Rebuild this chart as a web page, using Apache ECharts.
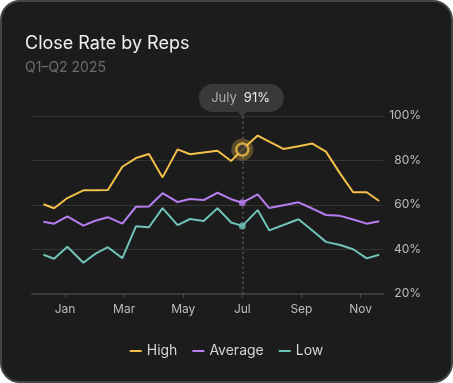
<!DOCTYPE html>
<html>
<head>
<meta charset="utf-8">
<script src="https://cdn.jsdelivr.net/npm/echarts@6/dist/echarts.min.js"></script>
<style>
  html, body { margin: 0; padding: 0; background: #ffffff; }
  #card { position: absolute; left: 0; top: 0; width: 453px; height: 383px; box-sizing: border-box;
          border: 2px solid #454545; border-radius: 20px; background: #1c1c1c; }
  #chart { position: absolute; left: 0; top: 0; width: 453px; height: 383px; }
</style>
</head>
<body>
<div id="card"></div>
<div id="chart"></div>
<script>
// ---- data ----
const monthNames = ['Jan','Feb','Mar','Apr','May','Jun','Jul','Aug','Sep','Oct','Nov','Dec'];
const tickMonths = [0, 2, 4, 6, 8, 10];
// x positions in months (0 = Jan)
const xPos = [-0.73, -0.37, 0.08, 0.62, 1.02, 1.45, 1.94, 2.40, 2.84, 3.30, 3.81, 4.23, 4.69, 5.16, 5.62, 6.00, 6.52, 6.91, 7.39, 7.90, 8.37, 8.83, 9.31, 9.75, 10.21, 10.63];
const high = [60.2, 58.4, 63.0, 66.5, 66.5, 66.6, 77.1, 81.0, 82.8, 72.3, 84.9, 82.7, 83.5, 84.3, 79.7, 84.8, 91.1, 88.4, 85.1, 86.3, 87.5, 83.9, 74.0, 65.6, 65.6, 61.7];
const average = [52.4, 51.5, 54.8, 50.6, 52.8, 54.4, 51.5, 59.1, 59.2, 65.2, 61.2, 62.6, 62.1, 65.4, 62.5, 60.9, 64.7, 58.5, 59.8, 61.1, 58.3, 55.4, 55.0, 53.4, 51.5, 52.6];
const low = [37.5, 35.7, 41.1, 33.9, 37.9, 40.9, 36.0, 50.3, 49.9, 58.5, 50.8, 53.6, 52.7, 58.4, 52.0, 50.5, 57.6, 48.5, 50.9, 53.5, 48.4, 43.3, 41.9, 40.0, 35.9, 37.5];
const yTicks = [20, 40, 60, 80, 100];
const focusMonth = 6;
const tooltipLabel = 'July';
const tooltipValue = '91%';

const colors = { high: '#f3c04a', average: '#b67ef0', low: '#6fc3b8' };
const FONT = 'Inter, "Noto Sans", sans-serif';

const pair = arr => arr.map((v, i) => [xPos[i], v]);
const fi = xPos.indexOf(focusMonth);

const chart = echarts.init(document.getElementById('chart'), null, { renderer: 'canvas' });

const option = {
  animation: false,
  backgroundColor: 'transparent',
  textStyle: { fontFamily: FONT },
  title: {
    text: 'Close Rate by Reps',
    subtext: 'Q1–Q2 2025',
    left: 20, top: 30, itemGap: 8,
    textStyle: { fontSize: 18, fontWeight: 400, color: '#f0f0f0', fontFamily: FONT },
    subtextStyle: { fontSize: 14, color: '#6c6c6c', fontFamily: FONT }
  },
  legend: {
    data: ['High', 'Average', 'Low'],
    bottom: 20, left: 'center',
    icon: 'rect', itemWidth: 12, itemHeight: 2, itemGap: 15,
    textStyle: { fontSize: 14, color: '#d4d4d4', fontFamily: FONT }
  },
  grid: { left: 32, right: 70, top: 115.8, bottom: 89.3 },
  xAxis: {
    type: 'value', min: -1.117, max: 10.76,
    splitLine: { show: false },
    axisLine: { show: true, lineStyle: { color: '#3a3a3a', width: 2 } },
    axisTick: { show: true, customValues: tickMonths, length: 4, lineStyle: { color: '#4e4e4e', width: 1 } },
    axisLabel: { customValues: tickMonths, formatter: v => monthNames[Math.round(v)], color: '#bdbdbd', fontSize: 12, margin: 10, fontFamily: FONT }
  },
  yAxis: {
    type: 'value', position: 'right', min: 20, max: 100, interval: 20,
    axisLine: { show: false }, axisTick: { show: false },
    splitLine: { show: true, lineStyle: { color: '#343434', width: 1 } },
    axisLabel: { formatter: '{value}%', color: '#bdbdbd', fontSize: 12, align: 'right', margin: 38, fontFamily: FONT }
  },
  series: [
    {
      name: 'High', type: 'line', data: pair(high), showSymbol: false, color: colors.high,
      lineStyle: { width: 2, color: colors.high }, z: 3,
      markLine: {
        silent: true, symbol: ['none', 'none'], label: { show: false },
        lineStyle: { type: [2, 3], color: '#5a5a5a', width: 1.5 },
        data: [{ xAxis: focusMonth }]
      }
    },
    { name: 'Average', type: 'line', data: pair(average), showSymbol: false, color: colors.average, lineStyle: { width: 2, color: colors.average }, z: 3 },
    { name: 'Low', type: 'line', data: pair(low), showSymbol: false, color: colors.low, lineStyle: { width: 2, color: colors.low }, z: 3 },
    { type: 'scatter', data: [[xPos[fi], high[fi]]], symbolSize: 22, itemStyle: { color: 'rgba(243,192,74,0.38)' }, z: 5, silent: true },
    { type: 'scatter', data: [[xPos[fi], high[fi]]], symbolSize: 12, itemStyle: { color: '#3a372f', borderColor: colors.high, borderWidth: 2.5 }, z: 6, silent: true },
    { type: 'scatter', data: [[xPos[fi], average[fi]]], symbolSize: 7, itemStyle: { color: colors.average }, z: 6, silent: true },
    { type: 'scatter', data: [[xPos[fi], low[fi]]], symbolSize: 7, itemStyle: { color: colors.low }, z: 6, silent: true }
  ]
};
chart.setOption(option);

// tooltip bubble positioned from the axis scale
const p = chart.convertToPixel({ xAxisIndex: 0, yAxisIndex: 0 }, [focusMonth, 100]);
const px = p[0];
const boxW = 85, boxH = 28, boxTop = 84;
chart.setOption({
  graphic: [
    {
      type: 'group', z: 100,
      children: [
        { type: 'rect', shape: { x: px - boxW / 2 - 1, y: boxTop, width: boxW, height: boxH, r: 14 }, style: { fill: '#393939' } },
        { type: 'polygon', shape: { points: [[px - 5, boxTop + boxH - 0.5], [px + 5, boxTop + boxH - 0.5], [px, boxTop + boxH + 5.5]] }, style: { fill: '#393939' } },
        { type: 'text', x: px - 5.5, y: boxTop + boxH / 2 + 0.5,
          style: { text: tooltipLabel, align: 'right', verticalAlign: 'middle', fill: '#ababab', font: '13px ' + FONT } },
        { type: 'text', x: px + 1.5, y: boxTop + boxH / 2 + 0.5,
          style: { text: tooltipValue, align: 'left', verticalAlign: 'middle', fill: '#ededed', font: '13px ' + FONT } }
      ]
    }
  ]
});
</script>
</body>
</html>
